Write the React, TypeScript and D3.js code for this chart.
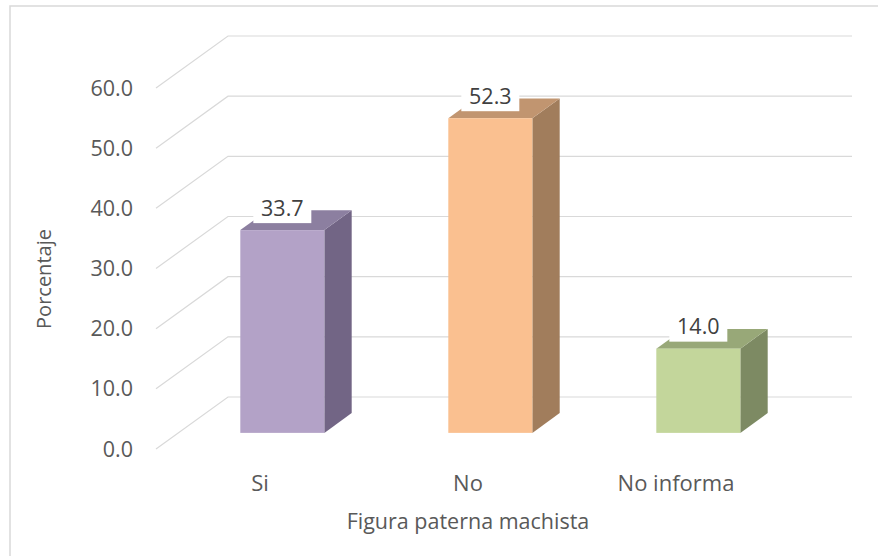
import * as d3 from "d3";
import { useEffect, useRef } from "react";

// chart data
const categories = ["Si", "No", "No informa"];
const values = [33.7, 52.3, 14.0];
const yTicks = [0, 10, 20, 30, 40, 50, 60];

// bar colours: front / side / top
const frontColors = ["#b3a2c7", "#fac090", "#c3d69b"];
const sideColors = ["#726585", "#a17d5c", "#7d8a63"];
const topColors = ["#8c7fa0", "#c19570", "#98a878"];

function App() {
  const ref = useRef(null);

  useEffect(() => {
    drawChart();
  }, []);

  const drawChart = () => {
    const width = 878;
    const height = 556;
    const font = "'Open Sans', sans-serif";

    // depth of the 3d box (back wall offset from front plane)
    const depthX = 72;
    const depthY = -52;
    // bars sit between these depth fractions
    const f0 = 0.31;
    const f1 = 0.69;

    const svg = d3.select(ref.current);
    svg.selectAll("*").remove();
    svg.attr("width", width).attr("height", height);

    svg
      .append("rect")
      .attr("width", width)
      .attr("height", height)
      .attr("fill", "#fff");

    // chart area border (right / bottom run off the picture)
    svg
      .append("rect")
      .attr("x", 10)
      .attr("y", 6)
      .attr("width", 900)
      .attr("height", 600)
      .attr("fill", "none")
      .attr("stroke", "#d9d9d9")
      .attr("stroke-width", 1.5);

    // scales on the front plane
    const xScale = d3.scaleBand().domain(categories).range([156, 780]);
    const yScale = d3.scaleLinear().domain([0, 60]).range([449, 88]);

    // grid: diagonal on the side wall, then horizontal on the back wall
    svg
      .append("g")
      .selectAll("path")
      .data(yTicks)
      .join("path")
      .attr("fill", "none")
      .attr("stroke", "#d9d9d9")
      .attr("stroke-width", 1.2)
      .attr("d", (d) => {
        const y = yScale(d);
        return `M156,${y}L${156 + depthX},${y + depthY}L852,${y + depthY}`;
      });

    // y tick labels
    svg
      .append("g")
      .selectAll("text")
      .data(yTicks)
      .join("text")
      .attr("x", 133)
      .attr("y", (d) => yScale(d))
      .attr("dy", "0.35em")
      .attr("text-anchor", "end")
      .attr("font-family", font)
      .attr("font-size", 21.5)
      .attr("fill", "#595959")
      .text((d) => d3.format(".1f")(d));

    // bars
    const barW = xScale.bandwidth() * 0.404;
    const bars = svg
      .append("g")
      .selectAll("g")
      .data(values)
      .join("g");

    const fx = (i) => xScale(categories[i]) + (xScale.bandwidth() - barW) / 2 + depthX * f0;
    const base = (v) => yScale(v) + depthY * f0;
    const bdx = depthX * (f1 - f0);
    const bdy = depthY * (f1 - f0);

    // side face
    bars
      .append("path")
      .attr("fill", (d, i) => sideColors[i])
      .attr("d", (d, i) => {
        const x = fx(i) + barW;
        const yt = base(d);
        const yb = base(0);
        return `M${x},${yt}L${x + bdx},${yt + bdy}L${x + bdx},${yb + bdy}L${x},${yb}Z`;
      });

    // top face
    bars
      .append("path")
      .attr("fill", (d, i) => topColors[i])
      .attr("d", (d, i) => {
        const x = fx(i);
        const yt = base(d);
        return `M${x},${yt}L${x + bdx},${yt + bdy}L${x + barW + bdx},${yt + bdy}L${x + barW},${yt}Z`;
      });

    // front face
    bars
      .append("rect")
      .attr("x", (d, i) => fx(i))
      .attr("y", (d) => base(d))
      .attr("width", barW)
      .attr("height", (d) => base(0) - base(d))
      .attr("fill", (d, i) => frontColors[i]);

    // data labels with white boxes
    const labels = svg
      .append("g")
      .selectAll("g")
      .data(values)
      .join("g")
      .attr("transform", (d, i) => `translate(${fx(i) + barW / 2},${base(d) - 22})`);

    labels
      .append("rect")
      .attr("x", -29)
      .attr("y", -12)
      .attr("width", 58)
      .attr("height", 27)
      .attr("fill", "#fff");

    labels
      .append("text")
      .attr("text-anchor", "middle")
      .attr("dy", "0.35em")
      .attr("font-family", font)
      .attr("font-size", 21.5)
      .attr("fill", "#404040")
      .text((d) => d3.format(".1f")(d));

    // category labels
    svg
      .append("g")
      .selectAll("text")
      .data(categories)
      .join("text")
      .attr("x", (d) => xScale(d) + xScale.bandwidth() / 2)
      .attr("y", 483)
      .attr("dy", "0.35em")
      .attr("text-anchor", "middle")
      .attr("font-family", font)
      .attr("font-size", 22)
      .attr("fill", "#595959")
      .text((d) => d);

    // axis titles
    svg
      .append("text")
      .attr("x", 468)
      .attr("y", 521)
      .attr("dy", "0.35em")
      .attr("text-anchor", "middle")
      .attr("font-family", font)
      .attr("font-size", 21.5)
      .attr("fill", "#595959")
      .text("Figura paterna machista");

    svg
      .append("text")
      .attr("transform", "translate(44,279) rotate(-90)")
      .attr("dy", "0.35em")
      .attr("text-anchor", "middle")
      .attr("font-family", font)
      .attr("font-size", 20)
      .attr("fill", "#595959")
      .text("Porcentaje");
  };

  return (
    <div style={{ position: "absolute", left: 0, top: 0 }}>
      <svg ref={ref} style={{ display: "block" }}></svg>
    </div>
  );
}

export default App;
